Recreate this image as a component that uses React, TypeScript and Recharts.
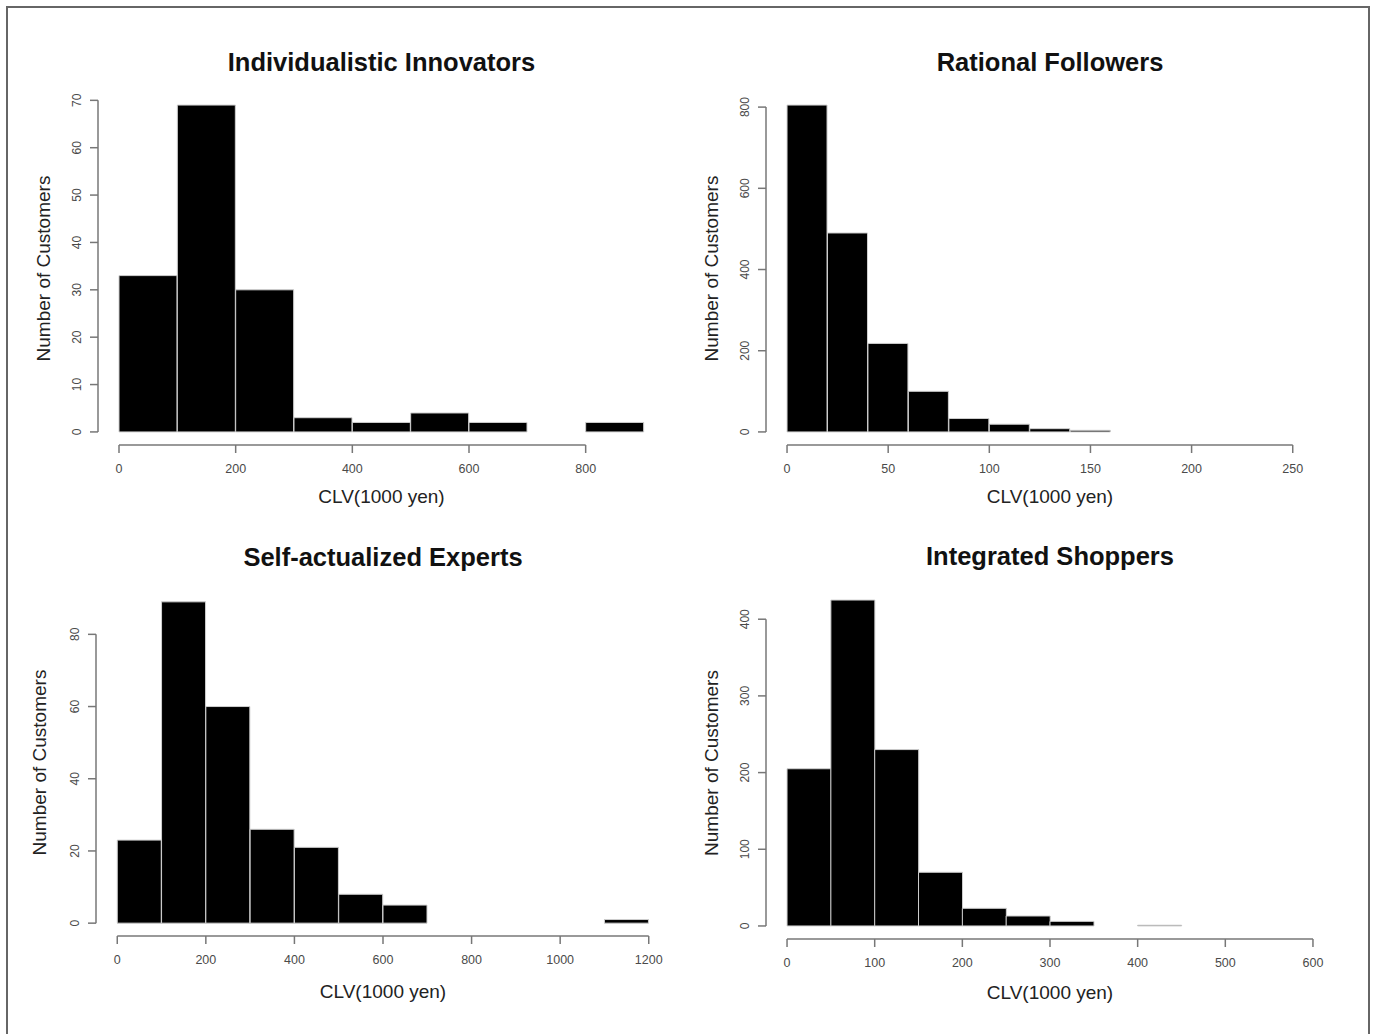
import { Bar, BarChart, Label, ReferenceLine, XAxis, YAxis } from 'recharts'

const innovatorsCounts = [33, 69, 30, 3, 2, 4, 2, 0, 2]
const innovatorsBinWidth = 100
const innovatorsXLim = [0, 900]
const innovatorsXTicks = [0, 200, 400, 600, 800]
const innovatorsYTicks = [0, 10, 20, 30, 40, 50, 60, 70]

const followersCounts = [805, 490, 218, 100, 33, 19, 8, 4]
const followersBinWidth = 20
const followersXLim = [0, 260]
const followersXTicks = [0, 50, 100, 150, 200, 250]
const followersYTicks = [0, 200, 400, 600, 800]

const expertsCounts = [23, 89, 60, 26, 21, 8, 5, 0, 0, 0, 0, 1]
const expertsBinWidth = 100
const expertsXLim = [0, 1200]
const expertsXTicks = [0, 200, 400, 600, 800, 1000, 1200]
const expertsYTicks = [0, 20, 40, 60, 80]

const shoppersCounts = [205, 425, 230, 70, 23, 13, 6, 0, 1]
const shoppersBinWidth = 50
const shoppersXLim = [0, 600]
const shoppersXTicks = [0, 100, 200, 300, 400, 500, 600]
const shoppersYTicks = [0, 100, 200, 300, 400]

const FONT = '"Liberation Sans", Arial, Helvetica, sans-serif'
const AXIS = '#777777'
const TICK = '#4a4a4a'
const Y_W = 90
const M_T = 5
const M_R = 10
const X_H = 75

const toBins = (counts: number[], w: number) =>
  counts.map((count, i) => ({ mid: (i + 0.5) * w, count }))

const RotatedTick = (props: any) => {
  const { x, y, payload } = props
  return (
    <text
      x={x}
      y={y}
      transform={`rotate(-90, ${x}, ${y})`}
      textAnchor='middle'
      fontSize={12}
      fontFamily={FONT}
      fill={TICK}
    >
      {payload.value}
    </text>
  )
}

type Box = { left: number; top: number; right: number; bottom: number }

function Histogram({
  title,
  counts,
  binWidth,
  xLim,
  xTicks,
  yTicks,
  box,
  titleBaseline,
  xLabelOffset,
  yLabelGap,
}: {
  title: string
  counts: number[]
  binWidth: number
  xLim: number[]
  xTicks: number[]
  yTicks: number[]
  box: Box
  titleBaseline: number
  xLabelOffset: number
  yLabelGap: number
}) {
  const data = toBins(counts, binWidth)
  const xSpan = xLim[1] - xLim[0]
  const yMax = Math.max(...counts)
  // R's default 4% extension of the plot region
  const xDomain = [xLim[0] - 0.04 * xSpan, xLim[1] + 0.04 * xSpan]
  const yDomain = [-0.04 * yMax, yMax * 1.04]
  const plotW = box.right - box.left
  const plotH = box.bottom - box.top

  return (
    <>
      <div
        style={{
          position: 'absolute',
          left: box.left,
          top: titleBaseline - 21,
          width: plotW,
          textAlign: 'center',
          fontFamily: FONT,
          fontWeight: 'bold',
          fontSize: 25.5,
          lineHeight: '25px',
          color: '#111',
          whiteSpace: 'nowrap',
        }}
      >
        {title}
      </div>
      <div style={{ position: 'absolute', left: box.left - Y_W, top: box.top - M_T }}>
        <BarChart
          width={plotW + Y_W + M_R}
          height={plotH + M_T + X_H}
          data={data}
          margin={{ top: M_T, right: M_R, bottom: 0, left: 0 }}
          barCategoryGap={0}
          barGap={0}
        >
          <XAxis
            dataKey='mid'
            type='number'
            domain={xDomain}
            allowDataOverflow
            ticks={xTicks}
            interval={0}
            height={X_H}
            axisLine={false}
            tickLine={{ stroke: AXIS, strokeWidth: 1.5 }}
            tickSize={8}
            tickMargin={11}
            tick={{ fill: TICK, fontSize: 12.5, fontFamily: FONT }}
          >
            <Label
              value='CLV(1000 yen)'
              position='insideBottom'
              offset={xLabelOffset}
              fill='#222'
              fontSize={19}
              fontFamily={FONT}
            />
          </XAxis>
          <YAxis
            type='number'
            domain={yDomain}
            allowDataOverflow
            ticks={yTicks}
            interval={0}
            width={Y_W}
            axisLine={false}
            tickLine={{ stroke: AXIS, strokeWidth: 1.5 }}
            tickSize={8}
            tickMargin={9}
            tick={<RotatedTick />}
          >
            <Label
              value='Number of Customers'
              angle={-90}
              position='insideLeft'
              offset={Y_W - yLabelGap}
              fill='#222'
              fontSize={19}
              fontFamily={FONT}
              style={{ textAnchor: 'middle' }}
            />
          </YAxis>
          <ReferenceLine
            segment={[
              { x: xTicks[0], y: yDomain[0] },
              { x: xTicks[xTicks.length - 1], y: yDomain[0] },
            ]}
            stroke={AXIS}
            strokeWidth={1.5}
            ifOverflow='visible'
          />
          <ReferenceLine
            segment={[
              { x: xDomain[0], y: yTicks[0] },
              { x: xDomain[0], y: yTicks[yTicks.length - 1] },
            ]}
            stroke={AXIS}
            strokeWidth={1.5}
            ifOverflow='visible'
          />
          <Bar
            dataKey='count'
            fill='#000'
            stroke='#cfcfcf'
            strokeWidth={1}
            isAnimationActive={false}
          />
        </BarChart>
      </div>
    </>
  )
}

export default function App() {
  return (
    <div
      style={{
        position: 'absolute',
        left: 0,
        top: 0,
        width: 1373,
        height: 1034,
        overflow: 'hidden',
        background: '#fff',
      }}
    >
      <div
        style={{
          position: 'absolute',
          left: 6,
          top: 6,
          width: 1360,
          height: 1060,
          border: '2px solid #666',
        }}
      />
      <Histogram
        title='Individualistic Innovators'
        counts={innovatorsCounts}
        binWidth={innovatorsBinWidth}
        xLim={innovatorsXLim}
        xTicks={innovatorsXTicks}
        yTicks={innovatorsYTicks}
        box={{ left: 98, top: 92, right: 665, bottom: 445 }}
        titleBaseline={71}
        xLabelOffset={17}
        yLabelGap={55}
      />
      <Histogram
        title='Rational Followers'
        counts={followersCounts}
        binWidth={followersBinWidth}
        xLim={followersXLim}
        xTicks={followersXTicks}
        yTicks={followersYTicks}
        box={{ left: 766, top: 92, right: 1334, bottom: 445 }}
        titleBaseline={71}
        xLabelOffset={17}
        yLabelGap={55}
      />
      <Histogram
        title='Self-actualized Experts'
        counts={expertsCounts}
        binWidth={expertsBinWidth}
        xLim={expertsXLim}
        xTicks={expertsXTicks}
        yTicks={expertsYTicks}
        box={{ left: 96, top: 589, right: 670, bottom: 936 }}
        titleBaseline={566}
        xLabelOffset={13}
        yLabelGap={57}
      />
      <Histogram
        title='Integrated Shoppers'
        counts={shoppersCounts}
        binWidth={shoppersBinWidth}
        xLim={shoppersXLim}
        xTicks={shoppersXTicks}
        yTicks={shoppersYTicks}
        box={{ left: 766, top: 587, right: 1334, bottom: 939 }}
        titleBaseline={565}
        xLabelOffset={15}
        yLabelGap={55}
      />
    </div>
  )
}
